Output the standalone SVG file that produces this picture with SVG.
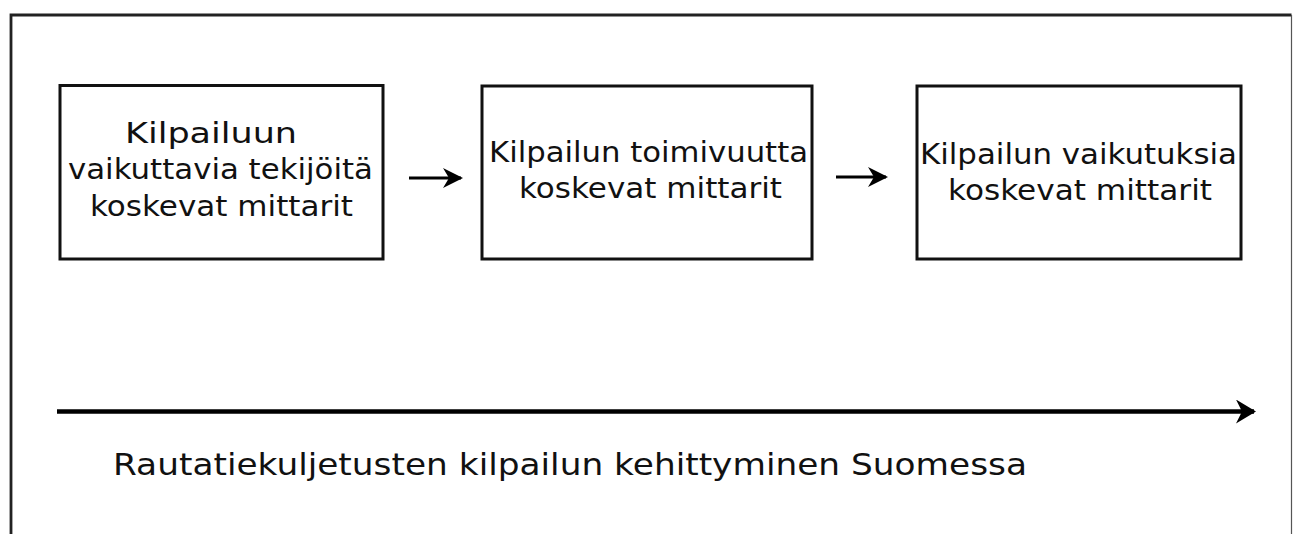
<svg xmlns="http://www.w3.org/2000/svg" width="1293" height="534" viewBox="0 0 1293 534">
<style>
.box{fill:#fff;stroke:#111;stroke-width:3}
.t{font-family:"DejaVu Sans","Verdana",sans-serif;font-size:29px;fill:#111}
.tb{font-family:"DejaVu Sans","Verdana",sans-serif;font-size:31px;fill:#111}
.c{stroke:#000;fill:none}
</style>
<defs>
<marker id="ah" viewBox="0 0 20 20" refX="18" refY="10" markerWidth="20" markerHeight="20" markerUnits="userSpaceOnUse" orient="auto">
<path d="M0,0 L20,10 L0,20 L6,10 Z" fill="#000"/>
</marker>
<marker id="ahs" viewBox="0 0 20 24" refX="18" refY="12" markerWidth="20" markerHeight="24" markerUnits="userSpaceOnUse" orient="auto">
<path d="M0,0 L20,12 L0,24 L6,12 Z" fill="#000"/>
</marker>
</defs>
<rect width="1293" height="534" fill="#fff"/>
<g id="frame">
<path d="M11,540 L11,15 L1291.5,15" fill="none" stroke="#222" stroke-width="2.8"/>
<path d="M1291.5,15 L1291.5,540" fill="none" stroke="#555" stroke-width="1.2"/>
</g>
<g id="node1">
<rect class="box" x="60" y="85.5" width="323" height="173.5"/>
<text class="t" x="125" y="142.5" textLength="172" lengthAdjust="spacingAndGlyphs">Kilpailuun</text>
<text class="t" x="68" y="179" textLength="305" lengthAdjust="spacingAndGlyphs">vaikuttavia tekijöitä</text>
<text class="t" x="90" y="215.5" textLength="263" lengthAdjust="spacingAndGlyphs">koskevat mittarit</text>
</g>
<g id="node2">
<rect class="box" x="482" y="86" width="330" height="173"/>
<text class="t" x="489" y="162.3" textLength="319" lengthAdjust="spacingAndGlyphs">Kilpailun toimivuutta</text>
<text class="t" x="519" y="198.3" textLength="263" lengthAdjust="spacingAndGlyphs">koskevat mittarit</text>
</g>
<g id="node3">
<rect class="box" x="917" y="86" width="324" height="173"/>
<text class="t" x="920" y="164.3" textLength="317" lengthAdjust="spacingAndGlyphs">Kilpailun vaikutuksia</text>
<text class="t" x="948" y="200" textLength="264" lengthAdjust="spacingAndGlyphs">koskevat mittarit</text>
</g>
<g id="connectors">
<line class="c" x1="409" y1="178" x2="461" y2="178" stroke-width="3" marker-end="url(#ah)"/>
<line class="c" x1="836" y1="177" x2="886" y2="177" stroke-width="3" marker-end="url(#ah)"/>
<line class="c" x1="57" y1="411.5" x2="1254" y2="411.5" stroke-width="4.5" marker-end="url(#ahs)"/>
</g>
<g id="caption">
<text class="tb" x="113" y="475" textLength="914" lengthAdjust="spacingAndGlyphs">Rautatiekuljetusten kilpailun kehittyminen Suomessa</text>
</g>
</svg>
